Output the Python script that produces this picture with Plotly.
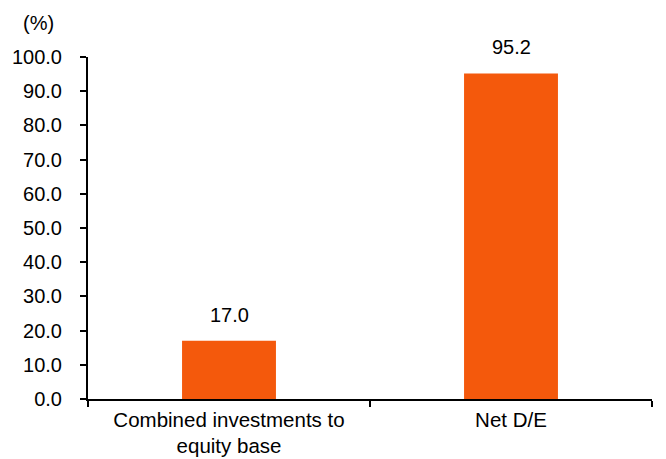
import plotly.graph_objects as go

categories = ["Combined investments to<br>equity base", "Net D/E"]
values = [17.0, 95.2]
labels = ["17.0", "95.2"]
y_ticks = [0, 10, 20, 30, 40, 50, 60, 70, 80, 90, 100]

FONT = "Liberation Sans, Arial, sans-serif"

fig = go.Figure()
fig.add_trace(go.Bar(
    x=categories, y=values,
    marker=dict(color="#F4590C", line=dict(width=0)),
    width=0.333, hoverinfo="skip",
))
for c, v, t in zip(categories, values, labels):
    fig.add_annotation(x=c, y=v, text=t, showarrow=False, yanchor="bottom",
                       yshift=13, font=dict(size=20, color="#000000", family=FONT))

fig.update_layout(
    width=666, height=459,
    margin=dict(l=88, r=14, t=57, b=60, autoexpand=False),
    paper_bgcolor="white", plot_bgcolor="white",
    font=dict(family=FONT, size=20, color="#000000"),
    showlegend=False,
    xaxis=dict(
        type="category", tickson="boundaries", ticks="outside", ticklen=6,
        tickcolor="#000000", tickwidth=2, showline=True, linecolor="#000000", linewidth=2,
        showgrid=False, tickfont=dict(size=20.5), range=[-0.5, 1.5], ticklabelstandoff=1,
    ),
    yaxis=dict(
        range=[0, 100], tickvals=y_ticks, ticktext=[f"{v:.1f}" for v in y_ticks],
        ticks="outside", ticklen=6, tickcolor="#000000", tickwidth=2,
        showline=True, linecolor="#000000", linewidth=2, showgrid=False, zeroline=False,
        tickfont=dict(size=20), ticklabelstandoff=14,
    ),
)
fig.add_annotation(text="(%)", xref="paper", yref="paper", x=-0.119, y=1.1,
                   xanchor="left", yanchor="middle", showarrow=False,
                   font=dict(size=20, family=FONT))
fig.write_html("out.html", config={"displayModeBar": False},
               post_script="document.body.style.margin='0';")
